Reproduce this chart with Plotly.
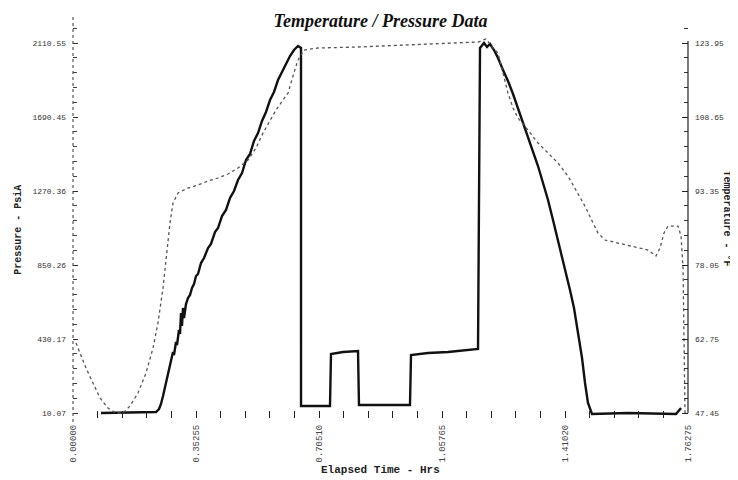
import plotly.graph_objects as go

# ---------------- data ----------------
time_pressure = [0.0803, 0.2379, 0.2465, 0.2522, 0.2580, 0.2666, 0.2723, 0.2780, 0.2838, 0.2866,
                 0.2895, 0.2952, 0.2981, 0.3038, 0.3067, 0.3096, 0.3124, 0.3153, 0.3182, 0.3239,
                 0.3296, 0.3354, 0.3411, 0.3468, 0.3526, 0.3583, 0.3669, 0.3755, 0.3870, 0.3955,
                 0.4070, 0.4156, 0.4271, 0.4385, 0.4500, 0.4615, 0.4729, 0.4844, 0.4959, 0.5073,
                 0.5188, 0.5303, 0.5417, 0.5532, 0.5647, 0.5761, 0.5876, 0.5991, 0.6105, 0.6220,
                 0.6335, 0.6449, 0.6535, 0.6536, 0.7366, 0.7395, 0.7739, 0.8169, 0.8197, 0.9659,
                 0.9688, 1.0175, 1.0749, 1.1322, 1.1609, 1.1666, 1.1781, 1.1867, 1.1953, 1.2067,
                 1.2182, 1.2325, 1.2468, 1.2612, 1.2755, 1.2898, 1.3042, 1.3185, 1.3328, 1.3472,
                 1.3615, 1.3758, 1.3902, 1.4045, 1.4131, 1.4245, 1.4360, 1.4475, 1.4590, 1.4676,
                 1.4761, 1.4876, 1.5908, 1.7284, 1.7370, 1.7428]
pressure_psia = [10.07, 15.7, 32.8, 61.2, 106.6, 180.4, 231.5, 288.2, 322.3, 356.4,
                 339.3, 413.1, 396.1, 481.3, 458.5, 577.8, 503.9, 606.2, 549.4, 628.9,
                 662.9, 679.9, 719.7, 742.4, 787.8, 799.2, 861.6, 890.0, 946.8, 969.5,
                 1037.6, 1060.3, 1128.4, 1162.5, 1230.6, 1270.4, 1332.8, 1372.6, 1446.4, 1480.4,
                 1554.2, 1599.6, 1667.8, 1718.9, 1786.8, 1832.4, 1900.5, 1945.9, 1997.0, 2036.8,
                 2070.8, 2093.5, 2082.2, 49.8, 49.8, 345.0, 356.4, 362.0, 55.5, 55.5,
                 339.3, 350.7, 356.4, 367.7, 373.4, 2082.2, 2110.6, 2087.8, 2104.9, 2070.8,
                 2025.4, 1957.2, 1894.8, 1821.0, 1741.6, 1662.1, 1582.6, 1497.4, 1412.3, 1315.8,
                 1219.3, 1105.7, 992.2, 878.6, 804.8, 708.3, 606.2, 464.2, 322.3, 180.4,
                 66.8, 4.4, 10.07, 4.4, 21.4, 38.5]

time_temperature = [0.0086, 0.0201, 0.0373, 0.0573, 0.0774, 0.1003, 0.1232, 0.1433, 0.1634, 0.1863,
                    0.2092, 0.2293, 0.2436, 0.2580, 0.2666, 0.2780, 0.2866, 0.3010, 0.3296, 0.3583,
                    0.3870, 0.4156, 0.4443, 0.4729, 0.5016, 0.5245, 0.5446, 0.5647, 0.5819, 0.6019,
                    0.6163, 0.6306, 0.6449, 0.6621, 0.7022, 0.8169, 0.9602, 1.1035, 1.1609, 1.1838,
                    1.2038, 1.2182, 1.2325, 1.2468, 1.2612, 1.2755, 1.3042, 1.3328, 1.3615, 1.3902,
                    1.4188, 1.4475, 1.4704, 1.4905, 1.5048, 1.5249, 1.5621, 1.6051, 1.6481, 1.6710,
                    1.6825, 1.6940, 1.7054, 1.7341, 1.7428, 1.7485, 1.7513, 1.7542]
temperature_f = [61.92, 59.86, 56.75, 53.65, 50.55, 48.48, 47.45, 47.45, 48.90, 51.59,
                 55.72, 60.89, 66.06, 73.30, 79.50, 86.73, 90.87, 92.94, 93.97, 94.59,
                 95.42, 96.04, 96.87, 98.11, 99.76, 102.24, 105.34, 108.03, 110.10, 112.17,
                 113.61, 117.13, 120.44, 122.50, 122.92, 123.12, 123.54, 123.95, 124.16, 124.78,
                 122.92, 121.88, 117.75, 113.61, 110.51, 108.44, 105.96, 103.28, 101.21, 99.14,
                 96.45, 92.94, 89.84, 86.73, 84.67, 83.22, 82.60, 81.98, 81.15, 79.91,
                 81.57, 84.67, 86.11, 86.11, 84.05, 77.43, 65.02, 47.45]

x_tick_values = [0.0, 0.35255, 0.70510, 1.05765, 1.41020, 1.76275]
x_tick_labels = ["0.00000", "0.35255", "0.70510", "1.05765", "1.41020", "1.76275"]
pressure_ticks = [10.07, 430.17, 850.26, 1270.36, 1690.45, 2110.55]
temperature_ticks = [47.45, 62.75, 78.05, 93.35, 108.65, 123.95]

title_text = "Temperature / Pressure Data"
x_title = "Elapsed Time - Hrs"
left_title = "Pressure - PsiA"
right_title = "Temperature - °F"

# ---------------- figure ----------------
fig = go.Figure()
fig.add_trace(go.Scatter(x=time_temperature, y=temperature_f, mode="lines", yaxis="y2",
                         line=dict(color="#555555", width=1.3, dash="dot"),
                         name="Temperature", hoverinfo="x+y"))
fig.add_trace(go.Scatter(x=time_pressure, y=pressure_psia, mode="lines", yaxis="y",
                         line=dict(color="#111111", width=2.4),
                         name="Pressure", hoverinfo="x+y"))

tick_font = dict(family="Liberation Mono", size=8, color="#333333")
title_font = dict(family="Liberation Mono", size=11, color="#222222", weight="bold")

fig.update_layout(
    width=738, height=480,
    margin=dict(l=65, r=58, t=10, b=70),
    paper_bgcolor="white", plot_bgcolor="white",
    showlegend=False,
    title=dict(text=title_text, x=0.5, xref="paper", y=1 - 13 / 480, yref="container",
               xanchor="center", yanchor="middle",
               font=dict(family="Liberation Serif", size=18, color="#111111",
                         style="italic", weight="bold")),
    xaxis=dict(range=[0, 1.76275], showgrid=False, zeroline=False, showline=False,
               tickmode="array", tickvals=x_tick_values, ticktext=x_tick_labels,
               tickangle=-90, tickfont=dict(family="Liberation Mono", size=9, color="#444444"),
               ticks="inside", ticklen=7, tickcolor="#222222", tickwidth=1.2,
               minor=dict(dtick=0.07051, tick0=0, ticks="inside", ticklen=7,
                          tickcolor="#222222", tickwidth=1.2, showgrid=False),
               ticklabelstandoff=4),
    yaxis=dict(range=[-18.3, 2252.5], showgrid=False, zeroline=False, showline=False,
               tickmode="array", tickvals=pressure_ticks,
               ticktext=[f"{v:.2f}" for v in pressure_ticks],
               tickfont=tick_font, ticks="inside", ticklen=5, tickcolor="#333333",
               minor=dict(dtick=84.02, tick0=10.07, ticks="inside", ticklen=4,
                          tickcolor="#444444", showgrid=False),
               ticklabelstandoff=6),
    yaxis2=dict(range=[46.42, 129.12], overlaying="y", side="right", showgrid=False,
                zeroline=False, showline=False,
                tickmode="array", tickvals=temperature_ticks,
                ticktext=[f"{v:.2f}" for v in temperature_ticks],
                tickfont=tick_font, ticks="inside", ticklen=6, tickcolor="#222222",
                minor=dict(dtick=3.06, tick0=47.45, ticks="inside", ticklen=4,
                           tickcolor="#333333", showgrid=False),
                ticklabelstandoff=6),
    shapes=[
        dict(type="line", xref="paper", yref="paper", x0=0, x1=0, y0=-0.01, y1=1.01,
             line=dict(color="#333333", width=1, dash="dot")),
        dict(type="line", xref="paper", yref="y2", x0=1, x1=1,
             y0=temperature_ticks[0], y1=temperature_ticks[-1] + 0.4,
             line=dict(color="#222222", width=1.2)),
    ],
    annotations=[
        dict(text=x_title, xref="paper", yref="paper", x=0.5, y=-0.13, showarrow=False,
             xanchor="center", yanchor="middle", font=title_font),
        dict(text=left_title, xref="paper", yref="paper", x=-0.09, y=0.47, showarrow=False,
             textangle=-90, xanchor="center", yanchor="middle",
             font=dict(family="Liberation Mono", size=10, color="#222222", weight="bold")),
        dict(text=right_title, xref="paper", yref="paper", x=1.075, y=0.5, showarrow=False,
             textangle=90, xanchor="right", yanchor="middle",
             font=dict(family="Liberation Mono", size=10, color="#222222", weight="bold")),
    ],
)

fig.write_html("out.html")
